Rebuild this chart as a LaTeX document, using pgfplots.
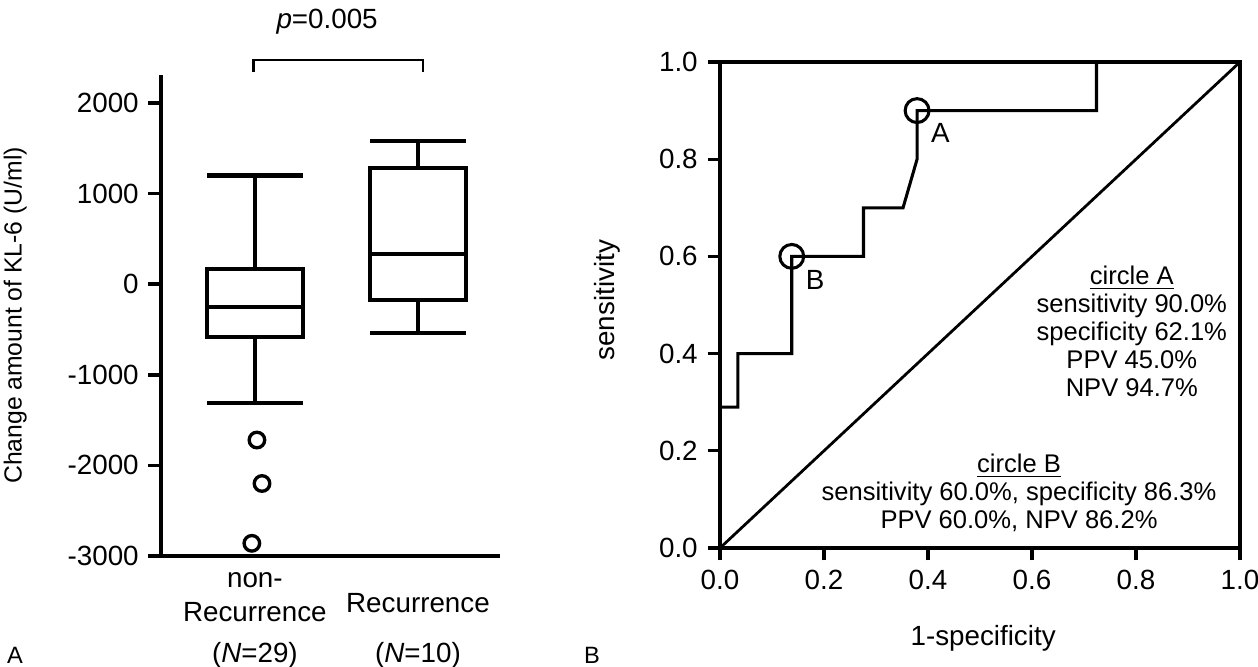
\documentclass[border=0pt]{standalone}
\usepackage{fontspec}
\setmainfont{Liberation Sans}
\usepackage{pgfplots}
\pgfplotsset{compat=1.18}

% 1 px of the reference = 0.36pt
\begin{document}
\begin{tikzpicture}
\path[use as bounding box] (0,0) rectangle (452.88pt,-240.12pt);

% ---- panel A: box plots (box = quartiles, line = median, whiskers with caps)
\begin{axis}[
  at={(57.96pt,-200.16pt)}, anchor=south west,
  scale only axis, width=122.04pt, height=173.16pt,
  xmin=0, xmax=1, ymin=-3000, ymax=2309,
  axis x line=bottom, axis y line=left,
  axis line style={-, line width=1.3pt},
  xtick=\empty,
  ytick={-3000,-2000,-1000,0,1000,2000},
  tick align=outside, major tick length=4.5pt,
  tick style={line width=1.3pt, black},
  /pgf/number format/assume math mode=true,
  /pgf/number format/1000 sep={},
  yticklabel style={font=\fontsize{10}{11}\selectfont},
  ylabel={Change amount of KL-6 (U/ml)},
  ylabel style={at={(axis description cs:-0.43,0.5)}, anchor=center,
    font=\fontsize{8.9}{10}\selectfont},
  unbounded coords=jump,
  clip=false,
]
% non-Recurrence: whiskers -1310 / 1200, quartiles -580 / 170, median -250
\addplot[black, line width=1.5pt] coordinates {
  (0.1355,-580)(0.4185,-580)(0.4185,170)(0.1355,170)} -- cycle;
\addplot[black, line width=1.5pt] coordinates {
  (0.1355,-250)(0.4185,-250) (nan,nan)
  (0.277,170)(0.277,1200) (nan,nan)
  (0.1355,1200)(0.4185,1200) (nan,nan)
  (0.277,-580)(0.277,-1310) (nan,nan)
  (0.1355,-1310)(0.4185,-1310)
};
% Recurrence: whiskers -540 / 1580, quartiles -170 / 1280, median 330
\addplot[black, line width=1.5pt] coordinates {
  (0.6165,-170)(0.8995,-170)(0.8995,1280)(0.6165,1280)} -- cycle;
\addplot[black, line width=1.5pt] coordinates {
  (0.6165,330)(0.8995,330) (nan,nan)
  (0.758,1280)(0.758,1580) (nan,nan)
  (0.6165,1580)(0.8995,1580) (nan,nan)
  (0.758,-170)(0.758,-540) (nan,nan)
  (0.6165,-540)(0.8995,-540)
};
% outliers
\addplot[only marks, mark=o, mark size=2.8pt,
  mark options={line width=1.2pt, black}]
  coordinates {(0.283,-1720)(0.298,-2200)(0.268,-2860)};

% significance bracket
\draw[line width=1pt] (axis cs:0.274,2342) -- (axis cs:0.274,2475)
  -- (axis cs:0.773,2475) -- (axis cs:0.773,2342);
\node[font=\fontsize{10}{12}\selectfont] at (axis cs:0.49,2894) {\textit{p}=0.005};

% category labels
\begin{scope}[every node/.style={font=\fontsize{10}{12}\selectfont}]
\node at (axis cs:0.277,-3265) {non-};
\node at (axis cs:0.277,-3618) {Recurrence};
\node at (axis cs:0.277,-4093) {(\textit{N}=29)};
\node at (axis cs:0.758,-3519) {Recurrence};
\node at (axis cs:0.758,-4093) {(\textit{N}=10)};
\node at (axis cs:-0.431,-4093) {\fontsize{8.5}{10}\selectfont A};
\end{scope}
\end{axis}

% ---- panel B: ROC curve
\begin{axis}[
  at={(259.2pt,-197.28pt)}, anchor=south west,
  scale only axis, width=187.2pt, height=174.96pt,
  xmin=0, xmax=1, ymin=0, ymax=1,
  axis line style={line width=1.2pt},
  xtick={0,0.2,0.4,0.6,0.8,1},
  ytick={0,0.2,0.4,0.6,0.8,1},
  tick pos=left, tick align=outside, major tick length=4.5pt,
  tick style={line width=1.2pt, black},
  /pgf/number format/assume math mode=true,
  /pgf/number format/fixed, /pgf/number format/fixed zerofill,
  /pgf/number format/precision=1,
  ticklabel style={font=\fontsize{10}{11}\selectfont},
  xlabel={1-specificity},
  ylabel={sensitivity},
  xlabel style={at={(axis description cs:0.506,-0.185)}, anchor=center,
    font=\fontsize{10}{12}\selectfont},
  ylabel style={at={(axis description cs:-0.217,0.51)}, anchor=center,
    font=\fontsize{10}{12}\selectfont},
  clip=false,
]
\addplot[black, line width=1pt] coordinates {(0,0)(1,1)};
\addplot[black, line width=1.1pt] coordinates {
  (0,0.29)(0.0345,0.29)(0.0345,0.4)(0.138,0.4)(0.138,0.6)
  (0.276,0.6)(0.276,0.7)(0.352,0.7)(0.379,0.8)(0.379,0.9)
  (0.724,0.9)(0.724,1.0)(1,1)
};
\addplot[only marks, mark=o, mark size=4.3pt,
  mark options={line width=1.1pt, black}]
  coordinates {(0.379,0.9)(0.138,0.6)};

\node[font=\fontsize{10}{12}\selectfont] at (axis cs:0.424,0.853) {A};
\node[font=\fontsize{10}{12}\selectfont] at (axis cs:0.183,0.551) {B};

\node[align=center, font=\fontsize{9.2}{10.1}\selectfont]
  at (axis cs:0.792,0.4465) {\underline{circle A}\\sensitivity 90.0\%\\specificity 62.1\%\\PPV 45.0\%\\NPV 94.7\%};
\node[align=center, font=\fontsize{9.2}{10.1}\selectfont]
  at (axis cs:0.575,0.113) {\underline{circle B}\\sensitivity 60.0\%, specificity 86.3\%\\PPV 60.0\%, NPV 86.2\%};

\node[font=\fontsize{8.5}{10}\selectfont] at (axis cs:-0.246,-0.22) {B};
\end{axis}
\end{tikzpicture}
\end{document}
